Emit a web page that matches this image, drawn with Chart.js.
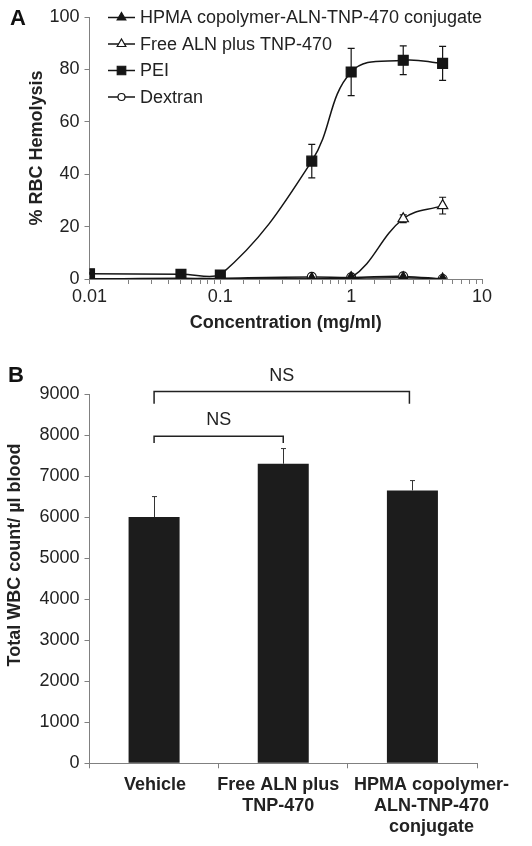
<!DOCTYPE html>
<html>
<head>
<meta charset="utf-8">
<script src="https://cdn.jsdelivr.net/npm/chart.js@4.4.1/dist/chart.umd.min.js"></script>
<style>
  body { margin: 0; background: #fff; }
  #wrap { position: relative; width: 532px; height: 846px; }
  canvas { position: absolute; left: 0; }
  #chartA { top: 0; }
  #chartB { top: 340px; }
</style>
</head>
<body>
<div id="wrap">
  <canvas id="chartA" width="532" height="340"></canvas>
  <canvas id="chartB" width="532" height="506"></canvas>
</div>
<script>
// Panel A - hemolysis vs concentration
const concentrations = [0.01, 0.05, 0.1, 0.5, 1, 2.5, 5];
const hpmaConjugate = [0, 0.3, 0, 0, 0.3, 0.5, 0];
const freeAln = [0, 0, 0, 0, 0.5, 23, 28];
const freeAlnErr = [0, 0, 0, 0, 0, 1.5, 3.2];
const pei = [2, 1.8, 1.5, 45, 79, 83.5, 82.3];
const peiErr = [0, 0, 0, 6.4, 9, 5.5, 6.5];
const dextran = [0, 0, 0.3, 0.8, 0.6, 1, 0];
const seriesNamesA = ['HPMA copolymer-ALN-TNP-470 conjugate', 'Free ALN plus TNP-470', 'PEI', 'Dextran'];
const hemolysisTicks = [0, 20, 40, 60, 80, 100];
const concentrationTicks = [0.01, 0.1, 1, 10];

// Panel B - WBC count
const groups = ['Vehicle', ['Free ALN plus', 'TNP-470'], ['HPMA copolymer-', 'ALN-TNP-470', 'conjugate']];
const wbcCount = [6000, 7300, 6650];
const wbcErr = [500, 370, 240];
const wbcTicks = [0, 1000, 2000, 3000, 4000, 5000, 6000, 7000, 8000, 9000];
const bracketFrom = [0, 0];
const bracketTo = [1, 2];
const bracketLevel = [7970, 9060];
const bracketLegEnd = [7805, 8760];
const bracketLabels = ['NS', 'NS'];

Chart.defaults.font.family = "'Liberation Sans', Arial, sans-serif";
Chart.defaults.color = '#222';

const axisGray = '#808080';
const ink = '#151515';

function pts(ys) {
  return concentrations.map((c, i) => ({ x: c, y: ys[i] }));
}

// error bars drawn through the scales
const errorBarsA = {
  id: 'errorBarsA',
  beforeDatasetsDraw(chart) {
    const ctx = chart.ctx;
    const xs = chart.scales.x, ys = chart.scales.y;
    ctx.save();
    ctx.strokeStyle = ink;
    ctx.lineWidth = 1.2;
    chart.data.datasets.forEach(ds => {
      if (!ds.errors) return;
      ds.data.forEach((p, i) => {
        const e = ds.errors[i];
        if (!e) return;
        const x = xs.getPixelForValue(p.x);
        const top = ys.getPixelForValue(p.y + e);
        const bot = ys.getPixelForValue(p.y - e);
        ctx.beginPath();
        ctx.moveTo(x, top); ctx.lineTo(x, bot);
        ctx.moveTo(x - 3.5, top); ctx.lineTo(x + 3.5, top);
        ctx.moveTo(x - 3.5, bot); ctx.lineTo(x + 3.5, bot);
        ctx.stroke();
      });
    });
    ctx.restore();
  }
};

// legend with line + marker like the original
const legendA = {
  id: 'legendA',
  afterDraw(chart) {
    const ctx = chart.ctx;
    ctx.save();
    chart.data.datasets.forEach((ds, i) => {
      const y = 17.5 + i * 26.5;
      ctx.strokeStyle = ink;
      ctx.lineWidth = 1.5;
      ctx.beginPath();
      ctx.moveTo(108, y); ctx.lineTo(135, y);
      ctx.stroke();
      ctx.fillStyle = ds.pointBackgroundColor;
      ctx.strokeStyle = ink;
      ctx.lineWidth = 1.2;
      Chart.helpers.drawPoint(ctx, { pointStyle: ds.pointStyle, radius: ds.pointRadius - 1, borderWidth: 1.2, rotation: 0 }, 121.5, y);
      ctx.fillStyle = '#222';
      ctx.font = "18px 'Liberation Sans', Arial, sans-serif";
      ctx.textBaseline = 'middle';
      ctx.textAlign = 'left';
      ctx.fillText(ds.label, 140, y + 1);
    });
    ctx.font = "bold 22px 'Liberation Sans', Arial, sans-serif";
    ctx.fillStyle = '#111';
    ctx.textBaseline = 'middle';
    ctx.fillText('A', 10, 19);
    ctx.restore();
  }
};

function lineSet(label, ys, style, radius, fill, errors) {
  return {
    label: label,
    data: pts(ys),
    errors: errors,
    borderColor: ink,
    borderWidth: 1.5,
    tension: 0.4,
    pointStyle: style,
    pointRadius: radius,
    pointBackgroundColor: fill,
    pointBorderColor: ink,
    pointBorderWidth: 1.2,
    fill: false
  };
}

new Chart(document.getElementById('chartA'), {
  type: 'line',
  data: {
    datasets: [
      lineSet(seriesNamesA[0], hpmaConjugate, 'triangle', 6, ink),
      lineSet(seriesNamesA[1], freeAln, 'triangle', 6, '#fff', freeAlnErr),
      lineSet(seriesNamesA[2], pei, 'rect', 7, ink, peiErr),
      lineSet(seriesNamesA[3], dextran, 'circle', 4.5, '#fff')
    ]
  },
  options: {
    responsive: false,
    animation: false,
    layout: { padding: { top: 17, right: 50, left: 0, bottom: 0 } },
    plugins: { legend: { display: false }, tooltip: { enabled: false } },
    scales: {
      x: {
        type: 'logarithmic',
        min: concentrationTicks[0],
        max: concentrationTicks[concentrationTicks.length - 1],
        grid: { drawOnChartArea: false, color: axisGray, tickLength: 5 },
        border: { color: axisGray },
        ticks: {
          autoSkip: false,
          maxRotation: 0,
          padding: 2,
          font: { size: 18 },
          callback: v => concentrationTicks.some(t => Math.abs(v / t - 1) < 1e-6) ? String(v) : ''
        },
        title: {
          display: true,
          text: 'Concentration (mg/ml)',
          font: { size: 18, weight: 'bold' },
          padding: { top: 0, bottom: 6 }
        },
        afterFit: s => { s.height = 61; }
      },
      y: {
        min: hemolysisTicks[0],
        max: hemolysisTicks[hemolysisTicks.length - 1],
        grid: { drawOnChartArea: false, color: axisGray, tickLength: 5 },
        border: { color: axisGray },
        ticks: { stepSize: hemolysisTicks[1] - hemolysisTicks[0], padding: 5, font: { size: 18 } },
        title: {
          display: true,
          text: '% RBC Hemolysis',
          font: { size: 18, weight: 'bold' },
          padding: { top: 26.5, bottom: 0 }
        },
        afterFit: s => { s.width = 89.5; }
      }
    }
  },
  plugins: [errorBarsA, legendA]
});

// Panel B extras: error bars, NS brackets, category labels, titles
const labelShiftB = [1, -5, 19];
const extrasB = {
  id: 'extrasB',
  afterDatasetsDraw(chart) {
    const ctx = chart.ctx;
    const xs = chart.scales.x, ys = chart.scales.y;
    ctx.save();
    ctx.strokeStyle = '#333';
    ctx.lineWidth = 1;
    wbcCount.forEach((v, i) => {
      const x = Math.round(xs.getPixelForValue(i)) + 0.5;
      const top = ys.getPixelForValue(v + wbcErr[i]);
      const base = ys.getPixelForValue(v);
      ctx.beginPath();
      ctx.moveTo(x, base); ctx.lineTo(x, top);
      ctx.moveTo(x - 2.5, top); ctx.lineTo(x + 2.5, top);
      ctx.stroke();
    });

    ctx.strokeStyle = '#222';
    ctx.lineWidth = 1.5;
    ctx.fillStyle = '#222';
    ctx.font = "18px 'Liberation Sans', Arial, sans-serif";
    ctx.textAlign = 'center';
    ctx.textBaseline = 'middle';
    bracketLevel.forEach((lvl, i) => {
      const x1 = xs.getPixelForValue(bracketFrom[i]);
      const x2 = xs.getPixelForValue(bracketTo[i]) - (bracketTo[i] === 2 ? 3 : 0);
      const y = ys.getPixelForValue(lvl);
      const yl = ys.getPixelForValue(bracketLegEnd[i]);
      ctx.beginPath();
      ctx.moveTo(x1, yl); ctx.lineTo(x1, y); ctx.lineTo(x2, y); ctx.lineTo(x2, yl);
      ctx.stroke();
      ctx.fillText(bracketLabels[i], (x1 + x2) / 2, y - 16);
    });

    // category labels (third one sits right of its bar in the original)
    ctx.font = "bold 18px 'Liberation Sans', Arial, sans-serif";
    groups.forEach((g, i) => {
      const lines = Array.isArray(g) ? g : [g];
      const x = xs.getPixelForValue(i) + labelShiftB[i];
      lines.forEach((t, k) => {
        ctx.fillText(t, x, chart.chartArea.bottom + 22 + k * 21);
      });
    });

    ctx.translate(15.5, 215);
    ctx.rotate(-Math.PI / 2);
    ctx.fillText('Total WBC count/ µl blood', 0, 0);
    ctx.restore();

    ctx.save();
    ctx.font = "bold 22px 'Liberation Sans', Arial, sans-serif";
    ctx.fillStyle = '#111';
    ctx.textBaseline = 'middle';
    ctx.fillText('B', 8, 36);
    ctx.restore();
  }
};

new Chart(document.getElementById('chartB'), {
  type: 'bar',
  data: {
    labels: groups,
    datasets: [{
      data: wbcCount,
      backgroundColor: '#1c1c1c',
      barPercentage: 0.395,
      categoryPercentage: 1
    }]
  },
  options: {
    responsive: false,
    animation: false,
    layout: { padding: { top: 54, right: 55, left: 0, bottom: 0 } },
    plugins: { legend: { display: false }, tooltip: { enabled: false } },
    scales: {
      x: {
        grid: { drawOnChartArea: false, color: axisGray, tickLength: 5, offset: true },
        border: { color: axisGray },
        ticks: { display: false },
        afterFit: s => { s.height = 82.7; }
      },
      y: {
        min: wbcTicks[0],
        max: wbcTicks[wbcTicks.length - 1],
        grid: { drawOnChartArea: false, color: axisGray, tickLength: 5 },
        border: { color: axisGray },
        ticks: {
          stepSize: wbcTicks[1] - wbcTicks[0],
          padding: 5,
          font: { size: 18 },
          callback: v => String(v)
        },
        afterFit: s => { s.width = 89.5; }
      }
    }
  },
  plugins: [extrasB]
});
</script>
</body>
</html>
